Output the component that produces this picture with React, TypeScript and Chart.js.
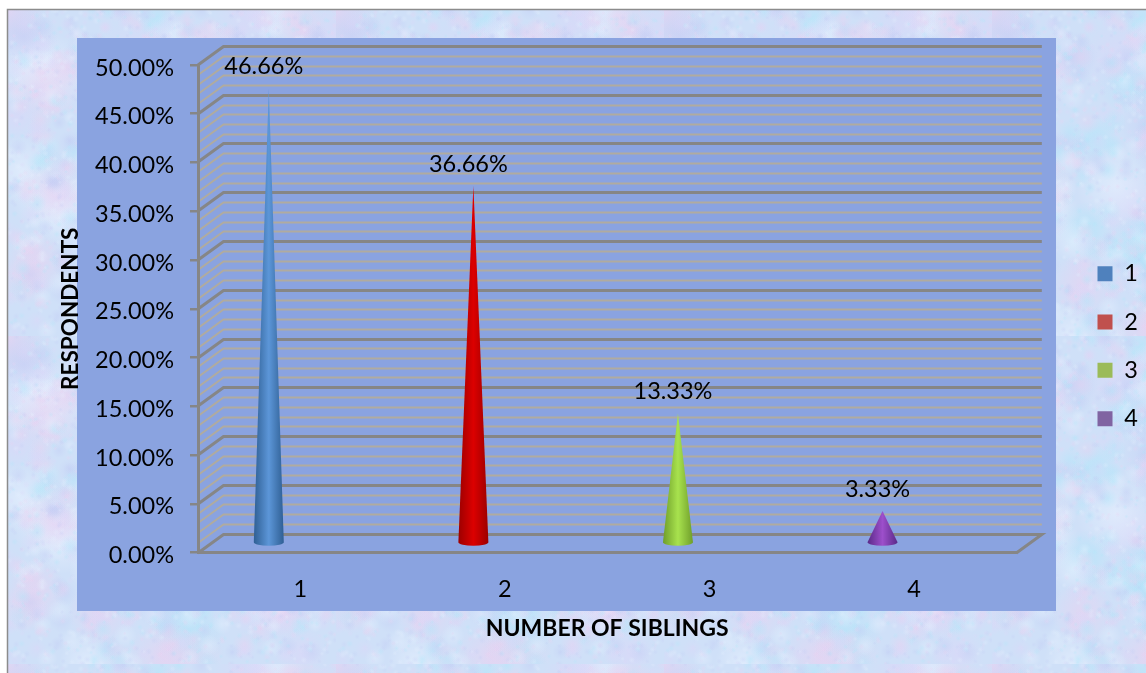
import React, { useEffect, useRef } from "react";
import { Chart, BarController, BarElement, registerables } from "chart.js";

const categories = ["1", "2", "3", "4"];
const shareValues = [46.66, 36.66, 13.33, 3.33];
const legendColors = ["#4f81bd", "#c0504d", "#9bbb59", "#8064a2"];
const coneCoreColors = ["#5c96d8", "#dc0000", "#a8e24e", "#9d4fcb"];
const coneEdgeColors = ["#2f5f94", "#9c0000", "#6f9e2a", "#5a2a88"];

const FONT = "Lato";
const AXIS_GRAY = "#868686";
const MINOR_TAN = "#b0ab9f";
const PANEL = "#8aa3e0";
const DEPTH_X = 25.5;
const DEPTH_Y = -18.5;
const CONE_SHIFT_X = -31.5;
const CONE_SHIFT_Y = -9;
const CONE_RADIUS = 15;

// A bar drawn as a shaded cone standing on the chart floor.
class ConeElement extends BarElement {
  static id = "cone";
  static defaults = { ...BarElement.defaults };
  static defaultRoutes = BarElement.defaultRoutes;

  draw(ctx: CanvasRenderingContext2D) {
    const { x, y, base } = (this as any).getProps(["x", "y", "base"]);
    const { backgroundColor, borderColor } = (this as any).options;
    const cx = x + CONE_SHIFT_X;
    const tip = y + CONE_SHIFT_Y;
    const floor = base + CONE_SHIFT_Y;
    const shade = ctx.createLinearGradient(cx - CONE_RADIUS, 0, cx + CONE_RADIUS, 0);
    shade.addColorStop(0, borderColor);
    shade.addColorStop(0.5, backgroundColor);
    shade.addColorStop(1, borderColor);
    ctx.save();
    ctx.fillStyle = shade;
    ctx.beginPath();
    ctx.moveTo(cx, tip);
    ctx.lineTo(cx + CONE_RADIUS, floor);
    ctx.ellipse(cx, floor, CONE_RADIUS, 3.5, 0, 0, Math.PI);
    ctx.closePath();
    ctx.fill();
    ctx.restore();
  }
}

class ConeController extends BarController {
  static id = "cone";
  static defaults = { ...BarController.defaults, dataElementType: "cone" };
  static overrides = BarController.overrides;
}

Chart.register(...registerables, ConeElement, ConeController);

// Small deterministic generator for the mottled paper tile.
function makeNoise(seed: number) {
  let s = seed;
  return () => {
    s = (s * 1664525 + 1013904223) % 4294967296;
    return s / 4294967296;
  };
}

function buildPaperTile(): HTMLCanvasElement {
  const size = 328;
  const tile = document.createElement("canvas");
  tile.width = size;
  tile.height = size;
  const c = tile.getContext("2d")!;
  c.fillStyle = "#cfe0f8";
  c.fillRect(0, 0, size, size);
  const rnd = makeNoise(20240);
  const tones = ["236,208,240", "172,232,250", "194,204,244", "232,242,255", "220,214,248"];
  const splash = (count: number, rMin: number, rMax: number, alpha: number) => {
    for (let i = 0; i < count; i++) {
      const x = rnd() * size;
      const y = rnd() * size;
      const r = rMin + rnd() * (rMax - rMin);
      const tone = tones[Math.floor(rnd() * tones.length)];
      const g = c.createRadialGradient(x, y, 0, x, y, r);
      g.addColorStop(0, `rgba(${tone},${alpha})`);
      g.addColorStop(1, `rgba(${tone},0)`);
      c.fillStyle = g;
      c.fillRect(x - r, y - r, r * 2, r * 2);
    }
  };
  splash(70, 20, 42, 0.6);
  splash(500, 6, 13, 0.4);
  splash(1800, 2, 4, 0.28);
  return tile;
}

const pageBackdrop = {
  id: "pageBackdrop",
  beforeDraw(chart: any) {
    const { ctx, width, height } = chart;
    ctx.save();
    ctx.fillStyle = "#ffffff";
    ctx.fillRect(0, 0, width, height);
    ctx.translate(8, 8);
    ctx.fillStyle = ctx.createPattern(buildPaperTile(), "repeat");
    ctx.fillRect(0, 2, width, height);
    ctx.restore();
    ctx.save();
    ctx.strokeStyle = "#8c8c8c";
    ctx.lineWidth = 1.5;
    ctx.beginPath();
    ctx.moveTo(7.5, height);
    ctx.lineTo(7.5, 9.5);
    ctx.lineTo(width, 9.5);
    ctx.stroke();
    ctx.fillStyle = PANEL;
    ctx.fillRect(77, 38, 979, 573);
    ctx.restore();
  },
};

// Back wall, side wall and floor of the 3-D box, taken from the value scale.
const chartBox = {
  id: "chartBox",
  beforeDraw(chart: any) {
    const { ctx, chartArea, scales } = chart;
    const y = scales.y;
    const { left, right } = chartArea;
    ctx.save();
    ctx.lineCap = "butt";
    for (let v = 0; v <= 50; v++) {
      const major = v % 5 === 0;
      const py = Math.round(y.getPixelForValue(v));
      ctx.strokeStyle = major ? AXIS_GRAY : MINOR_TAN;
      ctx.lineWidth = major ? 3 : 2;
      ctx.beginPath();
      ctx.moveTo(left, py);
      ctx.lineTo(left + DEPTH_X, py + DEPTH_Y);
      ctx.lineTo(right + DEPTH_X, py + DEPTH_Y);
      if (v === 0) ctx.lineTo(right, py);
      ctx.stroke();
    }
    ctx.restore();
  },
};

const valueLabels = {
  id: "valueLabels",
  afterDatasetsDraw(chart: any) {
    const { ctx } = chart;
    const points = chart.getDatasetMeta(0).data;
    ctx.save();
    ctx.font = `23.5px ${FONT}`;
    ctx.fillStyle = "#000000";
    ctx.textAlign = "center";
    ctx.textBaseline = "middle";
    points.forEach((pt: any, i: number) => {
      const text = `${shareValues[i].toFixed(2)}%`;
      ctx.fillText(text, pt.x + CONE_SHIFT_X - 5, pt.y + CONE_SHIFT_Y - 22);
    });
    ctx.restore();
  },
};

// Places the legend in the margin right of the box.
const legendPlacement = {
  id: "legendPlacement",
  afterLayout(chart: any) {
    const legend = chart.legend;
    const pad = legend.options.labels.padding;
    const w = legend.width;
    legend.left = 1097.5 - pad;
    legend.right = legend.left + w;
    legend.top = 262 - pad;
  },
};

export default function App() {
  const ref = useRef<HTMLCanvasElement | null>(null);

  useEffect(() => {
    if (!ref.current) return;
    const chart = new Chart(ref.current, {
      type: "cone" as any,
      data: {
        labels: categories,
        datasets: [
          {
            data: shareValues,
            backgroundColor: coneCoreColors,
            borderColor: coneEdgeColors,
          },
        ],
      },
      plugins: [pageBackdrop, chartBox, valueLabels, legendPlacement],
      options: {
        responsive: false,
        animation: false,
        layout: { padding: { top: 65, left: 0, right: 54.5, bottom: 0 } },
        plugins: {
          tooltip: { enabled: false },
          legend: {
            display: true,
            position: "right",
            align: "start",
            onClick: () => {},
            labels: {
              boxWidth: 15,
              boxHeight: 15,
              padding: 24.8,
              color: "#000000",
              font: { family: FONT, size: 23.5 },
              generateLabels: () =>
                categories.map((text, i) => ({
                  text,
                  fillStyle: legendColors[i],
                  strokeStyle: legendColors[i],
                  lineWidth: 0,
                  hidden: false,
                  datasetIndex: 0,
                })),
            },
          },
        },
        scales: {
          x: {
            type: "category",
            afterFit: (s: any) => {
              s.height = 120.5;
            },
            grid: { display: false },
            border: { display: true, color: AXIS_GRAY, width: 3 },
            ticks: { color: "#000000", padding: 15, font: { family: FONT, size: 23.5 } },
            title: {
              display: true,
              text: "NUMBER OF SIBLINGS",
              color: "#000000",
              font: { family: FONT, size: 23, weight: "bold" },
              padding: { top: 0, bottom: 31 },
            },
          },
          y: {
            type: "linear",
            min: 0,
            max: 50,
            afterFit: (s: any) => {
              s.width = 198;
            },
            grid: {
              drawOnChartArea: false,
              drawTicks: true,
              tickLength: 8,
              color: AXIS_GRAY,
              lineWidth: 2.5,
            },
            border: { display: true, color: AXIS_GRAY, width: 3 },
            ticks: {
              stepSize: 5,
              color: "#000000",
              padding: 16,
              labelOffset: 3,
              font: { family: FONT, size: 23.5 },
              callback: (v: any) => `${Number(v).toFixed(2)}%`,
            },
            title: {
              display: true,
              text: "RESPONDENTS",
              color: "#000000",
              font: { family: FONT, size: 22.5, weight: "bold" },
              padding: { top: 57, bottom: 0 },
            },
          },
        },
      } as any,
    });
    return () => chart.destroy();
  }, []);

  return (
    <div style={{ position: "fixed", left: 0, top: 0, width: 1146, height: 673 }}>
      <canvas ref={ref} width={1146} height={673} style={{ display: "block" }} />
    </div>
  );
}
